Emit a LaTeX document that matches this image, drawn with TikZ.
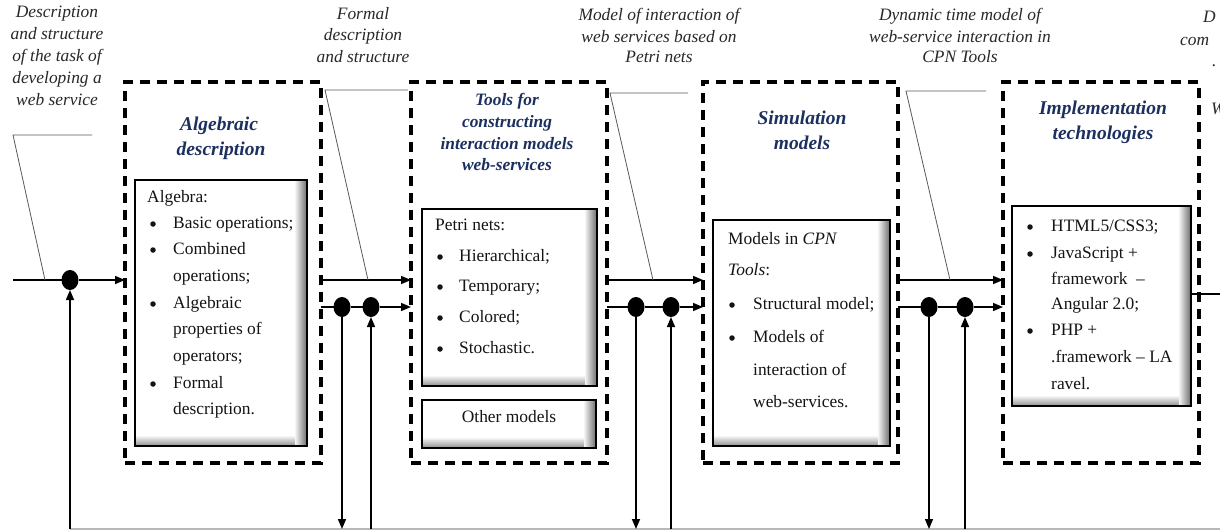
\documentclass[tikz,border=0pt]{standalone}
\usepackage{fontspec}
\setmainfont{Liberation Serif}
\usetikzlibrary{arrows.meta,shapes.geometric}
\definecolor{headc}{RGB}{28,48,96}
\definecolor{labc}{RGB}{40,40,40}
\definecolor{txtc}{RGB}{20,20,20}
\begin{document}
\begin{tikzpicture}[x=1pt,y=-1pt,
  dbox/.style={draw=black, line width=3.2pt, dash pattern=on 10pt off 7pt, inner sep=0pt, outer sep=0pt},
  ibox/.style={draw=black, line width=1.8pt, fill=white, inner sep=0pt, outer sep=0pt,
    path picture={
      \foreach \i in {1,...,10}{
        \pgfmathtruncatemacro\cc{\i*4}
        \fill[black!\cc] ([yshift={11pt-\i pt}]path picture bounding box.south west) rectangle ([yshift={10pt-\i pt}]path picture bounding box.south east);
      }
      \foreach \i in {1,...,12}{
        \pgfmathtruncatemacro\cc{\i*4.5}
        \fill[black!\cc] ([xshift={-13pt+\i pt}]path picture bounding box.north east) rectangle ([xshift={-12pt+\i pt}]path picture bounding box.south east);
      }
    }},
  dot/.style={ellipse, fill=black, inner sep=0pt, outer sep=0pt, minimum width=17pt, minimum height=20pt},
  bdot/.style={circle, fill=txtc, inner sep=0pt, outer sep=0pt, minimum size=5.5pt, yshift=2pt},
  conn/.style={line width=1.5pt, draw=black},
  arr/.style={conn, -{Triangle[length=10pt,width=8pt]}},
  lead/.style={line width=0.8pt, draw=gray!70!black},
  body/.style={inner sep=0pt, text=txtc, font=\fontsize{17.4}{21}\selectfont, anchor=mid west},
  ctext/.style={inner sep=0pt, text=txtc, font=\fontsize{17.4}{21}\selectfont, anchor=mid},
  head/.style={inner sep=0pt, text=headc, font=\fontsize{19.5}{23}\selectfont\bfseries\itshape, anchor=mid},
  heads/.style={inner sep=0pt, text=headc, font=\fontsize{17.4}{21}\selectfont\bfseries\itshape, anchor=mid},
  lab/.style={inner sep=0pt, text=labc, font=\fontsize{17.4}{21}\selectfont\itshape, anchor=mid},
  labw/.style={lab, anchor=mid west}
]
\useasboundingbox (0,0) rectangle (1220,531);
\fill[white] (0,0) rectangle (1220,531);

% dashed boxes
\node[dbox, minimum width=196pt, minimum height=381pt] (B1) at (223,272.5) {};
\node[dbox, minimum width=196pt, minimum height=381pt] (B2) at (509,272.5) {};
\node[dbox, minimum width=195pt, minimum height=381pt] (B3) at (800.5,272.5) {};
\node[dbox, minimum width=196pt, minimum height=381pt] (B4) at (1101,272.5) {};

% inner boxes
\node[ibox, minimum width=172pt, minimum height=266pt] (I1) at (221,313) {};
\node[ibox, minimum width=175pt, minimum height=177pt] (I2) at (509.5,297.5) {};
\node[ibox, minimum width=174pt, minimum height=48pt] (I2b) at (509,424) {};
\node[ibox, minimum width=177pt, minimum height=226pt] (I3) at (801.5,333) {};
\node[ibox, minimum width=179pt, minimum height=200pt] (I4) at (1101.5,306) {};

% headings
\node[head] (h1a) at (219,128) {Algebraic};
\node[head] (h1b) at (221,153) {description};
\node[heads] (h2a) at (507,103) {Tools for};
\node[heads] (h2b) at (507,125) {constructing};
\node[heads] (h2c) at (507,147) {interaction models};
\node[heads] (h2d) at (507,168) {web-services};
\node[head] (h3a) at (802,122) {Simulation};
\node[head] (h3b) at (802,147) {models};
\node[head] (h4a) at (1103,112) {Implementation};
\node[head] (h4b) at (1103,137) {technologies};

% box 1 text
\node[body] (a0) at (147,200) {Algebra:};
\node[bdot] (ab1) at (153,226) {};
\node[body] (a1) at (173,226) {Basic operations;};
\node[bdot] (ab2) at (153,252) {};
\node[body] (a2) at (173,252) {Combined};
\node[body] (a3) at (173,279) {operations;};
\node[bdot] (ab3) at (153,306) {};
\node[body] (a4) at (173,306) {Algebraic};
\node[body] (a5) at (173,332) {properties of};
\node[body] (a6) at (173,359) {operators;};
\node[bdot] (ab4) at (153,386) {};
\node[body] (a7) at (173,386) {Formal};
\node[body] (a8) at (173,412) {description.};

% box 2 text
\node[body] (p0) at (435,228) {Petri nets:};
\node[bdot] (pb1) at (440,259) {};
\node[body] (p1) at (459,259) {Hierarchical;};
\node[bdot] (pb2) at (440,289) {};
\node[body] (p2) at (459,289) {Temporary;};
\node[bdot] (pb3) at (440,320) {};
\node[body] (p3) at (459,320) {Colored;};
\node[bdot] (pb4) at (440,351) {};
\node[body] (p4) at (459,351) {Stochastic.};
\node[ctext] (om) at (509,420) {Other models};

% box 3 text
\node[body] (c0) at (728,242) {Models in \textit{CPN}};
\node[body] (c1) at (728,273) {\textit{Tools}:};
\node[bdot] (cb1) at (732,307) {};
\node[body] (c2) at (753,307) {Structural model;};
\node[bdot] (cb2) at (732,340) {};
\node[body] (c3) at (753,340) {Models of};
\node[body] (c4) at (753,373) {interaction of};
\node[body] (c5) at (753,405) {web-services.};

% box 4 text
\node[bdot] (jb1) at (1030,229) {};
\node[body] (j1) at (1051,229) {HTML5/CSS3;};
\node[bdot] (jb2) at (1030,256) {};
\node[body] (j2) at (1051,256) {JavaScript +};
\node[body] (j3) at (1051,282) {framework\ \ –};
\node[body] (j4) at (1051,307) {Angular 2.0;};
\node[bdot] (jb3) at (1030,333) {};
\node[body] (j5) at (1051,333) {PHP +};
\node[body] (j6) at (1051,360) {.framework – LA};
\node[body] (j7) at (1051,387) {ravel.};

% top labels
\node[lab] (l1a) at (57,15) {Description};
\node[lab] (l1b) at (57,37) {and structure};
\node[lab] (l1c) at (57,59) {of the task of};
\node[lab] (l1d) at (57,81) {developing a};
\node[lab] (l1e) at (57,103) {web service};
\node[lab] (l2a) at (363,17) {Formal};
\node[lab] (l2b) at (363,38) {description};
\node[lab] (l2c) at (363,60) {and structure};
\node[lab] (l3a) at (659,18) {Model of interaction of};
\node[lab] (l3b) at (659,40) {web services based on};
\node[lab] (l3c) at (659,60) {Petri nets};
\node[lab] (l4a) at (960,18) {Dynamic time model of};
\node[lab] (l4b) at (960,40) {web-service interaction in};
\node[lab] (l4c) at (960,60) {CPN Tools};
\node[labw] (l5a) at (1203,20) {D};
\node[labw] (l5b) at (1180,43) {com};
\node[labw] (l5c) at (1212,64) {.};
\node[labw] (l5e) at (1211,112) {W};

% dots
\node[dot] (d0) at (70,280) {};
\node[dot] (d1) at (342,307) {};
\node[dot] (d2) at (371,307) {};
\node[dot] (d3) at (636,307) {};
\node[dot] (d4) at (671,307) {};
\node[dot] (d5) at (929,307) {};
\node[dot] (d6) at (965,307) {};

% coordinates
\coordinate (inL) at (13,280);
\coordinate (up) at (0,280);
\coordinate (lo) at (0,307);
\coordinate (bot) at (0,529);
\coordinate (botL) at (70,529);
\coordinate (botR) at (1220,529);
\coordinate (outy) at (0,294);
\coordinate (outR) at (1220,294);

% bottom line
\draw[line width=1.5pt, draw=gray!55] (botL) -- (botR);

% input
\draw[conn] (inL) -- (d0);
\draw[arr] (d0) -- (B1.west |- up);
\draw[arr] (botL) -- (d0);

% B1 -> B2
\draw[arr] (B1.east |- up) -- (B2.west |- up);
\draw[conn] (B1.east |- lo) -- (d1);
\draw[conn] (d1) -- (d2);
\draw[arr] (d2) -- (B2.west |- lo);
\draw[arr] (d1) -- (d1 |- bot);
\draw[arr] (d2 |- bot) -- (d2);

% B2 -> B3
\draw[arr] (B2.east |- up) -- (B3.west |- up);
\draw[conn] (B2.east |- lo) -- (d3);
\draw[conn] (d3) -- (d4);
\draw[arr] (d4) -- (B3.west |- lo);
\draw[arr] (d3) -- (d3 |- bot);
\draw[arr] (d4 |- bot) -- (d4);

% B3 -> B4
\draw[arr] (B3.east |- up) -- (B4.west |- up);
\draw[conn] (B3.east |- lo) -- (d5);
\draw[conn] (d5) -- (d6);
\draw[arr] (d6) -- (B4.west |- lo);
\draw[arr] (d5) -- (d5 |- bot);
\draw[arr] (d6 |- bot) -- (d6);

% output
\draw[conn] (I4.east |- outy) -- (outR);

% leader lines
\coordinate (k1a) at (92,135); \coordinate (k1b) at (13,135); \coordinate (k1c) at (45,280);
\coordinate (k2a) at (408,90); \coordinate (k2b) at (325,90); \coordinate (k2c) at (368,280);
\coordinate (k3a) at (688,93); \coordinate (k3b) at (610,93); \coordinate (k3c) at (653,280);
\coordinate (k4a) at (986,91); \coordinate (k4b) at (906,91); \coordinate (k4c) at (950,280);
\draw[lead] (k1a) -- (k1b) -- (k1c);
\draw[lead] (k2a) -- (k2b) -- (k2c);
\draw[lead] (k3a) -- (k3b) -- (k3c);
\draw[lead] (k4a) -- (k4b) -- (k4c);
\end{tikzpicture}
\end{document}
